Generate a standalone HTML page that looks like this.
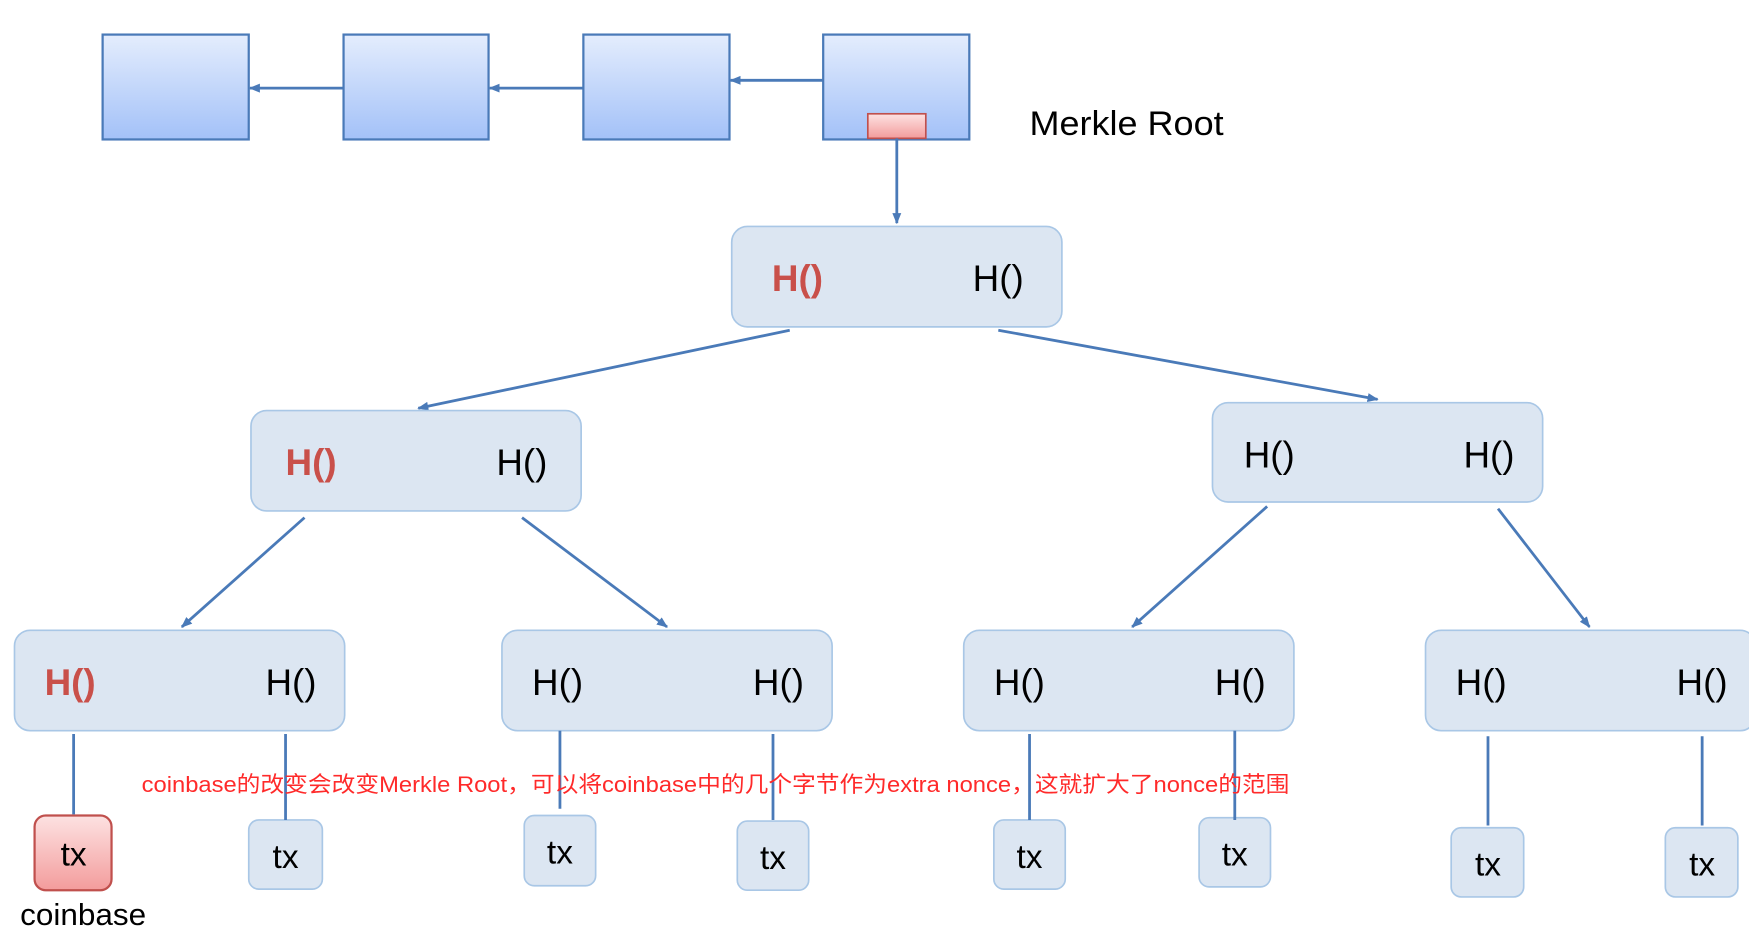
<!DOCTYPE html>
<html><head><meta charset="utf-8"><style>html,body{margin:0;padding:0;background:#fff;}svg{display:block;}</style></head>
<body>
<svg width="1749" height="946" viewBox="0 0 1568 848" preserveAspectRatio="none" xmlns="http://www.w3.org/2000/svg">
<defs>
<linearGradient id="bg" x1="0" y1="0" x2="0" y2="1"><stop offset="0" stop-color="#e4edfd"/><stop offset="1" stop-color="#a3c1f8"/></linearGradient>
<linearGradient id="rg" x1="0" y1="0" x2="0" y2="1"><stop offset="0" stop-color="#fde2e2"/><stop offset="1" stop-color="#f39c9c"/></linearGradient>
<marker id="ar" markerWidth="10" markerHeight="10" refX="9" refY="5" orient="auto" markerUnits="userSpaceOnUse"><path d="M0,1 L10,5 L0,9 z" fill="#4a7ab8"/></marker>
</defs>
<g fill="url(#bg)" stroke="#4a7ab8" stroke-width="2">
<rect x="92" y="31" width="131" height="94"/>
<rect x="308" y="31" width="130" height="94"/>
<rect x="523" y="31" width="131" height="94"/>
<rect x="738" y="31" width="131" height="94"/>
</g>
<rect x="778" y="102" width="52" height="22" fill="url(#rg)" stroke="#c0504d" stroke-width="1.5"/>
<g stroke="#4a7ab8" stroke-width="2.5" fill="none" marker-end="url(#ar)">
<line x1="308" y1="79" x2="224" y2="79"/>
<line x1="523" y1="79" x2="439" y2="79"/>
<line x1="738" y1="72" x2="655" y2="72"/>
<line x1="804" y1="124" x2="804" y2="200"/>
<line x1="708" y1="296" x2="375" y2="366"/>
<line x1="895" y1="296" x2="1235" y2="358"/>
<line x1="273" y1="464" x2="163" y2="562"/>
<line x1="468" y1="464" x2="598" y2="562"/>
<line x1="1136" y1="454" x2="1015" y2="562"/>
<line x1="1343" y1="456" x2="1425" y2="562"/>
</g>
<text x="923" y="121" font-family="Liberation Sans, sans-serif" font-size="31" fill="#000" textLength="174" lengthAdjust="spacingAndGlyphs">Merkle Root</text>
<g fill="#dce6f2" stroke="#a9c7e6" stroke-width="1.5">
<rect x="656" y="203" width="296" height="90" rx="14"/>
<rect x="225" y="368" width="296" height="90" rx="14"/>
<rect x="1087" y="361" width="296" height="89" rx="14"/>
<rect x="13" y="565" width="296" height="90" rx="14"/>
<rect x="450" y="565" width="296" height="90" rx="14"/>
<rect x="864" y="565" width="296" height="90" rx="14"/>
<rect x="1278" y="565" width="296" height="90" rx="14"/>
<rect x="223" y="735" width="66" height="62" rx="9"/>
<rect x="470" y="731" width="64" height="63" rx="9"/>
<rect x="661" y="736" width="64" height="62" rx="9"/>
<rect x="891" y="735" width="64" height="62" rx="9"/>
<rect x="1075" y="733" width="64" height="62" rx="9"/>
<rect x="1301" y="742" width="65" height="62" rx="9"/>
<rect x="1493" y="742" width="65" height="62" rx="9"/>
</g>
<rect x="31" y="731" width="69" height="67" rx="10" fill="url(#rg)" stroke="#c0504d" stroke-width="2"/>
<g stroke="#4a7ab8" stroke-width="2.5">
<line x1="66" y1="658" x2="66" y2="730"/>
<line x1="256" y1="658" x2="256" y2="735"/>
<line x1="502" y1="655" x2="502" y2="725"/>
<line x1="693" y1="658" x2="693" y2="735"/>
<line x1="923" y1="658" x2="923" y2="735"/>
<line x1="1107" y1="655" x2="1107" y2="735"/>
<line x1="1334" y1="660" x2="1334" y2="740"/>
<line x1="1526" y1="660" x2="1526" y2="740"/>
</g>
<g font-family="Liberation Sans, sans-serif" font-size="33" fill="#000">
<text x="692" y="261" fill="#c9504a" font-weight="bold">H()</text>
<text x="872" y="261">H()</text>
<text x="256" y="426" fill="#c9504a" font-weight="bold">H()</text>
<text x="445" y="426">H()</text>
<text x="1115" y="419">H()</text>
<text x="1312" y="419">H()</text>
<text x="40" y="623" fill="#c9504a" font-weight="bold">H()</text>
<text x="238" y="623">H()</text>
<text x="477" y="623">H()</text>
<text x="675" y="623">H()</text>
<text x="891" y="623">H()</text>
<text x="1089" y="623">H()</text>
<text x="1305" y="623">H()</text>
<text x="1503" y="623">H()</text>
</g>
<g font-family="Liberation Sans, sans-serif" font-size="30" fill="#000" text-anchor="middle">
<text x="66" y="776">tx</text>
<text x="256" y="778">tx</text>
<text x="502" y="774">tx</text>
<text x="693" y="779">tx</text>
<text x="923" y="778">tx</text>
<text x="1107" y="776">tx</text>
<text x="1334" y="785">tx</text>
<text x="1526" y="785">tx</text>
</g>
<text x="18" y="829" font-family="Liberation Sans, sans-serif" font-size="27" fill="#000" textLength="113" lengthAdjust="spacingAndGlyphs">coinbase</text>
<text x="127" y="710" font-family="Liberation Sans, 'Noto Sans CJK SC', sans-serif" font-size="20" fill="#ff2a2a" textLength="1029" lengthAdjust="spacingAndGlyphs">coinbase的改变会改变Merkle Root，可以将coinbase中的几个字节作为extra nonce，这就扩大了nonce的范围</text>
</svg>
</body></html>
